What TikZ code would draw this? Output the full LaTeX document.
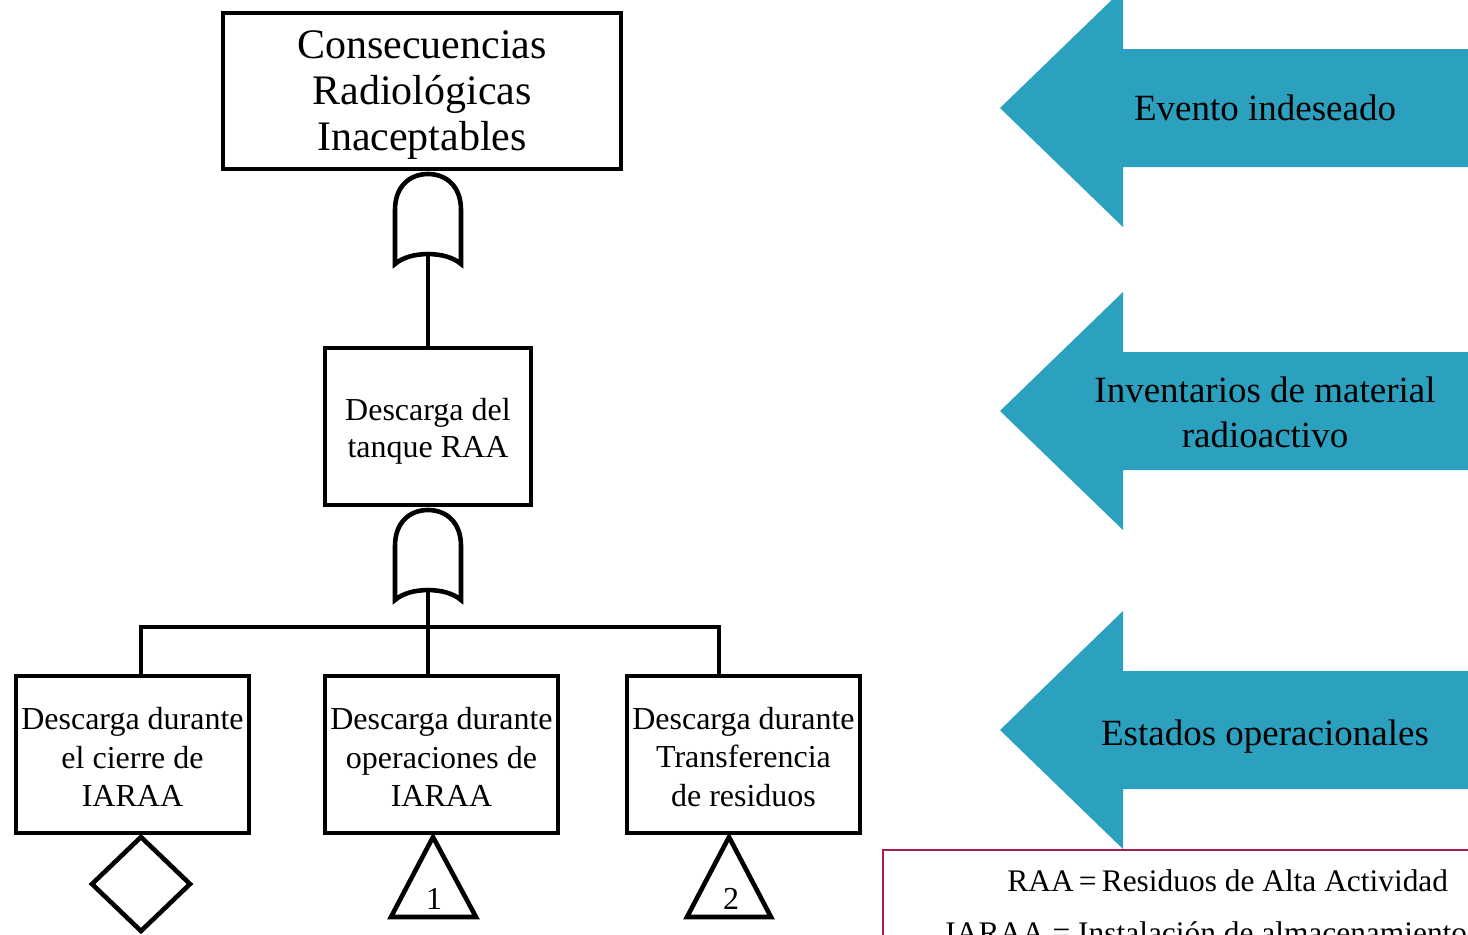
\documentclass[tikz,border=0pt]{standalone}
\usepackage{fontspec}
\setmainfont{Liberation Serif}
\usetikzlibrary{positioning,calc}
\definecolor{flechaazul}{RGB}{44,161,191}
\definecolor{bordeleyenda}{RGB}{165,30,75}
\tikzset{
  compuerta/.pic={
    \draw[line width=2.3pt, fill=white] (-33,90) -- (-33,36)
      .. controls (-33,12) and (-18,0) .. (0,0)
      .. controls (18,0) and (33,12) .. (33,36) -- (33,90)
      .. controls (18,76.7) and (-18,76.7) .. (-33,90) -- cycle;
    \coordinate (-in) at (0,80);
  }
}
\begin{document}
\begin{tikzpicture}[
    x=0.5pt, y=-0.5pt,
    caja/.style={draw, line width=2.3pt, align=center, inner sep=0pt},
    cajachica/.style={caja, minimum width=116.5pt, minimum height=78.5pt,
      font=\fontsize{16}{19.25}\selectfont},
    linea/.style={line width=2.3pt},
    flecha/.style={fill=flechaazul},
    flechatxt/.style={align=center, inner sep=0pt, font=\fontsize{18.5}{22.5}\selectfont}
]
    \useasboundingbox (0,0) rectangle (1468,934);
    \clip (0,0) rectangle (1468,934);

    % flechas de la derecha
    \foreach \y/\n/\txt in {108/ev/{Evento indeseado},
        411/inv/{Inventarios de material\\radioactivo},
        730/est/{Estados operacionales}} {
        \fill[flecha] (1000,\y) -- (1123,\y-119) -- (1123,\y-59) -- (1490,\y-59)
            -- (1490,\y+59) -- (1123,\y+59) -- (1123,\y+119) -- cycle;
    }
    \node[flechatxt] (ev) at (1265,108) {Evento indeseado};
    \node[flechatxt] (inv) at (1265,412) {Inventarios de material\\radioactivo};
    \node[flechatxt] (est) at (1265,737) {Estados operacionales};

    % cajas del arbol
    \node[caja, minimum width=199pt, minimum height=78pt,
      font=\fontsize{21}{23}\selectfont] (top) at (422,91) {};
    \node[align=center, inner sep=0pt, font=\fontsize{21}{23}\selectfont]
      (toptxt) at (422,95) {Consecuencias\\Radiológicas\\Inaceptables};
    \node[caja, minimum width=103pt, minimum height=78.5pt,
      font=\fontsize{16}{18.5}\selectfont] (tanque) at (428,426.5) {};
    \node[align=center, inner sep=0pt, font=\fontsize{16}{18.5}\selectfont]
      (tanquetxt) at (428,431) {Descarga del\\tanque RAA};
    \node[cajachica] (cierre) at (132.5,754.5) {};
    \node[cajachica] (op) at (441.5,754.5) {};
    \node[cajachica] (transf) at (743.5,754.5) {};
    \foreach \n/\x/\txt in {cierre/132.5/{Descarga durante\\el cierre de\\IARAA},
        op/441.5/{Descarga durante\\operaciones de\\IARAA},
        transf/743.5/{Descarga durante\\Transferencia\\de residuos}} {
        \node[align=center, inner sep=0pt, font=\fontsize{16}{19.25}\selectfont]
          (\n txt) at (\x,757) {\txt};
    }

    % compuertas
    \pic (ga) at (428,174) {compuerta};
    \pic (gb) at (428,510) {compuerta};

    % conexiones
    \coordinate (busl) at (141,627);
    \coordinate (busr) at (719,627);
    \draw[linea] (ga-in) -- (tanque.north);
    \draw[linea] (gb-in) -- (gb-in |- op.north);
    \draw[linea] (cierre.north -| busl) -- (busl) -- (busr) -- (transf.north -| busr);

    % simbolos de abajo
    \draw[linea] (141,837) -- (190,884) -- (141,931) -- (92,884) -- cycle;
    \draw[linea] (433,837) -- (476,917) -- (391,917) -- cycle;
    \node[font=\fontsize{16}{19}\selectfont, inner sep=0pt] (t1) at (434,899) {1};
    \draw[linea] (729,837) -- (771,917) -- (687,917) -- cycle;
    \node[font=\fontsize{16}{19}\selectfont, inner sep=0pt] (t2) at (731,899) {2};

    % leyenda
    \draw[bordeleyenda, line width=1pt] (883,850) rectangle (1520,1000);
    \node[anchor=base west, inner sep=0pt, font=\fontsize{15.7}{19}\selectfont] (raa)
      at (1007,891) {RAA\,=\,Residuos de Alta Actividad};
    \node[anchor=base west, inner sep=0pt, font=\fontsize{15.7}{19}\selectfont] (iaraa)
      at (945,943) {IARAA = Instalación de almacenamiento de residuos};
\end{tikzpicture}
\end{document}
